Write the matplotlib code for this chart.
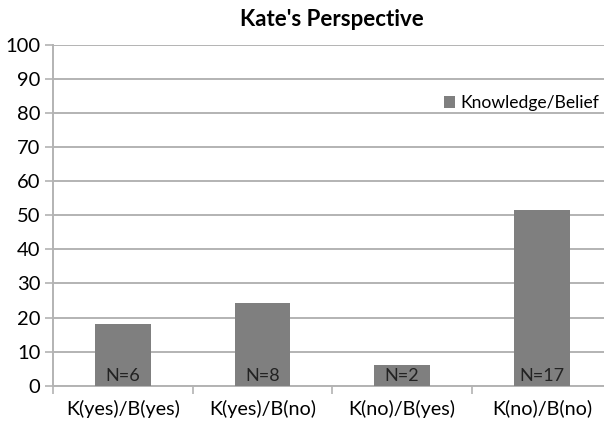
import matplotlib
matplotlib.use("Agg")
import matplotlib.pyplot as plt
import numpy as np

categories = ["K(yes)/B(yes)", "K(yes)/B(no)", "K(no)/B(yes)", "K(no)/B(no)"]
percent = [18.2, 24.2, 6.1, 51.5]
counts = [6, 8, 2, 17]
series_name = "Knowledge/Belief"
yticks = [0, 10, 20, 30, 40, 50, 60, 70, 80, 90, 100]

plt.rcParams["font.family"] = ["Lato", "DejaVu Sans"]

fig = plt.figure(figsize=(6.04, 4.22), dpi=100)
ax = fig.add_axes([53 / 604, 1 - 385.7 / 422, (611.7 - 53) / 604, (385.7 - 45) / 422])

x = np.arange(len(categories))
bar_color = "#7f7f7f"
grid_color = "#b3b3b3"
ax.bar(x, percent, width=0.4, color=bar_color, zorder=3, label=series_name)

for xi, n in zip(x, counts):
    ax.text(xi, 0.4, f"N={n}", ha="center", va="bottom", fontsize=13, color="#222222", zorder=4)

ax.set_xlim(-0.5, len(categories) - 0.5)
ax.set_ylim(0, 100)
ax.set_yticks(yticks)
ax.set_yticklabels([str(t) for t in yticks], fontsize=14.5)
ax.yaxis.grid(True, color=grid_color, linewidth=1.4, zorder=0)
ax.set_axisbelow(True)

ax.set_xticks(x)
ax.set_xticklabels(categories, fontsize=14.2)
ax.tick_params(axis="x", which="major", length=0, pad=10)
ax.set_xticks(np.arange(-0.5, len(categories), 1.0), minor=True)
ax.tick_params(axis="x", which="minor", length=6, width=1.2, color=grid_color, direction="out")
ax.tick_params(axis="y", length=6, width=1.2, color=grid_color, pad=3)

for side in ["top", "right"]:
    ax.spines[side].set_visible(False)
for side in ["left", "bottom"]:
    ax.spines[side].set_color(grid_color)
    ax.spines[side].set_linewidth(1.4)

ax.set_title("Kate's Perspective", fontsize=16, fontweight="bold", pad=14)

leg = ax.legend(loc="center right", bbox_to_anchor=(0.978, 0.83), frameon=False,
                fontsize=12.6, handlelength=0.65, handleheight=0.65, handletextpad=0.3,
                borderaxespad=0, borderpad=0)

fig.savefig("out.png", dpi=100)
